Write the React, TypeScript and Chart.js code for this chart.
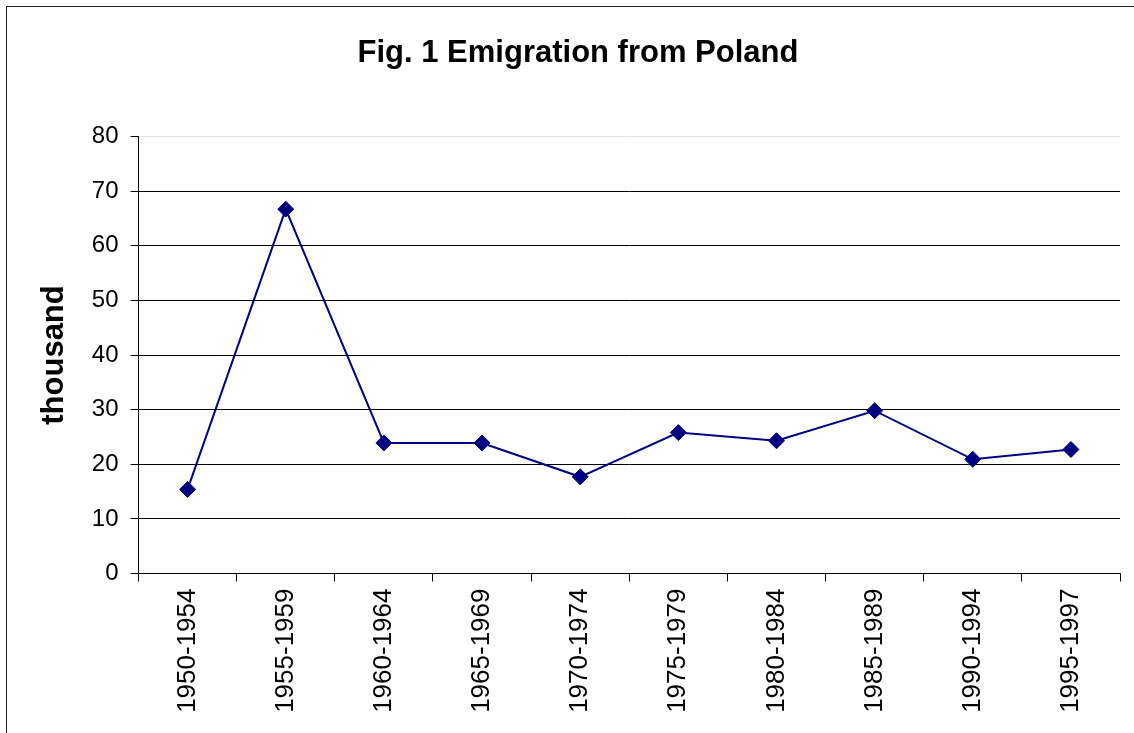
import React, { useEffect, useRef } from "react";
import { Chart, registerables } from "chart.js";

Chart.register(...registerables);

const categories = [
  "1950-1954", "1955-1959", "1960-1964", "1965-1969", "1970-1974",
  "1975-1979", "1980-1984", "1985-1989", "1990-1994", "1995-1997",
];
const emigration = [15.4, 66.7, 23.9, 23.9, 17.7, 25.8, 24.3, 29.8, 20.9, 22.7];
const yMin = 0;
const yMax = 80;
const yStep = 10;
const chartTitle = "Fig. 1 Emigration from Poland";

const FONT = "'Liberation Sans', Arial, Helvetica, sans-serif";

const titlePlugin = {
  id: "fixedTitle",
  afterDraw(chart: any) {
    const ctx = chart.ctx;
    ctx.save();
    ctx.fillStyle = "#000";
    ctx.font = `bold 31px ${FONT}`;
    ctx.textAlign = "center";
    ctx.textBaseline = "alphabetic";
    ctx.fillText(chartTitle, 578, 62);
    ctx.restore();
  },
};

export default function App() {
  const ref = useRef<HTMLCanvasElement | null>(null);

  useEffect(() => {
    if (!ref.current) return;
    const chart = new Chart(ref.current, {
      type: "line",
      data: {
        labels: categories,
        datasets: [
          {
            label: "Emigration",
            data: emigration,
            borderColor: "#000080",
            backgroundColor: "#000080",
            borderWidth: 2,
            pointStyle: "rectRot",
            pointRadius: 8,
            pointBorderWidth: 1,
            pointBackgroundColor: "#000080",
            pointBorderColor: "#000080",
            tension: 0,
            fill: false,
          },
        ],
      },
      plugins: [titlePlugin],
      options: {
        animation: false,
        responsive: false,
        maintainAspectRatio: false,
        layout: { padding: { left: 0, right: 14, top: 136.5, bottom: 0 } },
        plugins: {
          legend: { display: false },
          tooltip: { enabled: false },
          title: { display: false },
        },
        scales: {
          x: {
            type: "category",
            offset: true,
            grid: {
              display: true,
              offset: true,
              drawOnChartArea: false,
              drawTicks: true,
              tickLength: 8,
              color: "#000",
              tickColor: "#000",
            },
            border: { display: true, color: "#000", width: 1 },
            ticks: {
              color: "#000",
              font: { family: FONT, size: 26 },
              minRotation: 90,
              maxRotation: 90,
              autoSkip: false,
              padding: 7,
            },
            afterFit: (axis: any) => {
              axis.height = 159.5;
            },
          },
          y: {
            min: yMin,
            max: yMax,
            grid: {
              color: (ctx: any) => (ctx.tick && ctx.tick.value === yMax ? "#e4e4e4" : "#000"),
              tickColor: "#000",
              tickLength: 8,
              drawTicks: true,
            },
            border: { display: true, color: "#000", width: 1 },
            ticks: {
              stepSize: yStep,
              color: "#000",
              font: { family: FONT, size: 24 },
              padding: 12,
            },
            title: {
              display: true,
              text: "thousand",
              color: "#000",
              font: { family: FONT, size: 31, weight: "bold", lineHeight: 1.2 },
              padding: { top: 36, bottom: 0 },
            },
            afterFit: (axis: any) => {
              axis.width = 138.5;
            },
          },
        },
      },
    });
    return () => chart.destroy();
  }, []);

  return (
    <div style={{ position: "absolute", left: 0, top: 0, width: 1134, height: 733, background: "#fff", overflow: "hidden" }}>
      <canvas ref={ref} width={1134} height={733} style={{ position: "absolute", left: 0, top: 0, width: 1134, height: 733 }} />
      <div
        style={{
          position: "absolute",
          left: 6,
          top: 6,
          width: 1140,
          height: 740,
          borderLeft: "1px solid #222",
          borderTop: "1px solid #222",
          pointerEvents: "none",
        }}
      />
    </div>
  );
}
